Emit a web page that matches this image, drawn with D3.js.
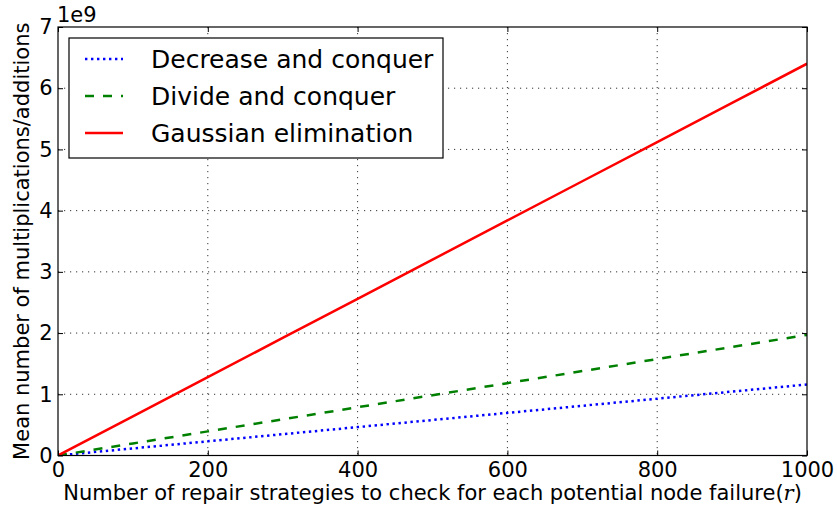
<!DOCTYPE html>
<html>
<head>
<meta charset="utf-8">
<script src="https://cdn.jsdelivr.net/npm/d3@7"></script>
<style>
  html, body { margin: 0; padding: 0; background: #fff; }
  svg { display: block; font-family: "DejaVu Sans", sans-serif; }
</style>
</head>
<body>
<svg id="chart" width="837" height="513"></svg>
<script>
// Repair strategies checked per potential node failure (r)
const rValues = [0, 100, 200, 300, 400, 500, 600, 700, 800, 900, 1000];
// Mean number of multiplications/additions, in units of 1e9
const decreaseAndConquer = [0, 0.116, 0.232, 0.348, 0.464, 0.58, 0.696, 0.812, 0.928, 1.044, 1.16];
const divideAndConquer   = [0, 0.197, 0.394, 0.591, 0.788, 0.985, 1.182, 1.379, 1.576, 1.773, 1.97];
const gaussianElimination = [0, 0.64, 1.28, 1.92, 2.56, 3.2, 3.84, 4.48, 5.12, 5.76, 6.4];

const xTicks = [0, 200, 400, 600, 800, 1000];
const yTicks = [0, 1, 2, 3, 4, 5, 6, 7];

const seriesNames = ["Decrease and conquer", "Divide and conquer", "Gaussian elimination"];
const seriesColors = ["#0000ff", "#008000", "#ff0000"];
const seriesDash = ["2.4,3.6", "9,9", null];

const series = seriesNames.map((name, i) => ({
  name,
  color: seriesColors[i],
  dash: seriesDash[i],
  values: [decreaseAndConquer, divideAndConquer, gaussianElimination][i]
}));

const svg = d3.select("#chart");
const m = { left: 58, right: 807, top: 27, bottom: 455.5 };

const x = d3.scaleLinear().domain([0, 1000]).range([m.left, m.right]);
const y = d3.scaleLinear().domain([0, 7]).range([m.bottom, m.top]);

// Dotted grid
const grid = svg.append("g").attr("stroke", "#000").attr("stroke-width", 0.8)
  .attr("stroke-dasharray", "1.2,4.8");
grid.selectAll("line.vx").data(xTicks.slice(1, -1)).join("line")
  .attr("x1", d => x(d)).attr("x2", d => x(d))
  .attr("y1", m.top).attr("y2", m.bottom);
grid.selectAll("line.hy").data(yTicks.slice(1, -1)).join("line")
  .attr("x1", m.left).attr("x2", m.right)
  .attr("y1", d => y(d)).attr("y2", d => y(d));

// Data lines
const line = d3.line().x((d, i) => x(rValues[i])).y(d => y(d));
svg.append("clipPath").attr("id", "plotclip").append("rect")
  .attr("x", m.left).attr("y", m.top).attr("width", m.right - m.left).attr("height", m.bottom - m.top);
svg.append("g").attr("clip-path", "url(#plotclip)")
  .selectAll("path").data(series).join("path")
  .attr("d", d => line(d.values))
  .attr("fill", "none")
  .attr("stroke", d => d.color)
  .attr("stroke-width", 2.5)
  .attr("stroke-dasharray", d => d.dash);

// Axes (ticks pointing inward on all four sides)
const fontSize = 21;
const bottomAxis = svg.append("g").attr("transform", `translate(0,${m.bottom})`)
  .call(d3.axisBottom(x).tickValues(xTicks).tickSize(-5).tickFormat(d3.format("d")));
const topAxis = svg.append("g").attr("transform", `translate(0,${m.top})`)
  .call(d3.axisTop(x).tickValues(xTicks).tickSize(-5).tickFormat(""));
const leftAxis = svg.append("g").attr("transform", `translate(${m.left},0)`)
  .call(d3.axisLeft(y).tickValues(yTicks).tickSize(-5).tickPadding(5.5).tickFormat(d3.format("d")));
const rightAxis = svg.append("g").attr("transform", `translate(${m.right},0)`)
  .call(d3.axisRight(y).tickValues(yTicks).tickSize(-5).tickFormat(""));

[bottomAxis, topAxis, leftAxis, rightAxis].forEach(g => {
  g.select(".domain").remove();
  g.selectAll(".tick line").attr("stroke", "#000").attr("stroke-width", 1);
  g.selectAll("text").attr("font-size", fontSize).attr("font-family", "DejaVu Sans").attr("fill", "#000");
});
// x tick labels sit on a baseline just under the frame
bottomAxis.selectAll(".tick text").attr("y", 477 - m.bottom).attr("dy", 0);

// Frame
svg.append("rect")
  .attr("x", m.left).attr("y", m.top)
  .attr("width", m.right - m.left).attr("height", m.bottom - m.top)
  .attr("fill", "none").attr("stroke", "#000").attr("stroke-width", 1.2);

// Offset text for y scale
svg.append("text").attr("x", m.left - 1).attr("y", 22)
  .attr("font-size", fontSize).text("1e9");

// Axis labels
const xLabel = svg.append("text")
  .attr("x", (m.left + m.right) / 2).attr("y", 500)
  .attr("text-anchor", "middle").attr("font-size", fontSize);
xLabel.append("tspan").text("Number of repair strategies to check for each potential node failure(");
xLabel.append("tspan").attr("font-family", "DejaVu Serif").attr("font-style", "italic").text("r");
xLabel.append("tspan").text(")");

svg.append("text")
  .attr("transform", `translate(28.5,${(m.top + m.bottom) / 2}) rotate(-90)`)
  .attr("text-anchor", "middle").attr("font-size", fontSize)
  .text("Mean number of multiplications/additions");

// Legend
const legend = svg.append("g");
legend.append("rect")
  .attr("x", 69).attr("y", 38).attr("width", 374).attr("height", 120)
  .attr("fill", "#fff").attr("stroke", "#000").attr("stroke-width", 1.2);
const rows = legend.selectAll("g.row").data(series).join("g")
  .attr("transform", (d, i) => `translate(0,${59 + i * 37})`);
rows.append("line")
  .attr("x1", 85).attr("x2", 123).attr("y1", 0).attr("y2", 0)
  .attr("stroke", d => d.color).attr("stroke-width", 2.5)
  .attr("stroke-dasharray", d => d.dash);
rows.append("text")
  .attr("x", 151).attr("y", 0).attr("dy", "0.36em")
  .attr("font-size", 25).text(d => d.name);
</script>
</body>
</html>
